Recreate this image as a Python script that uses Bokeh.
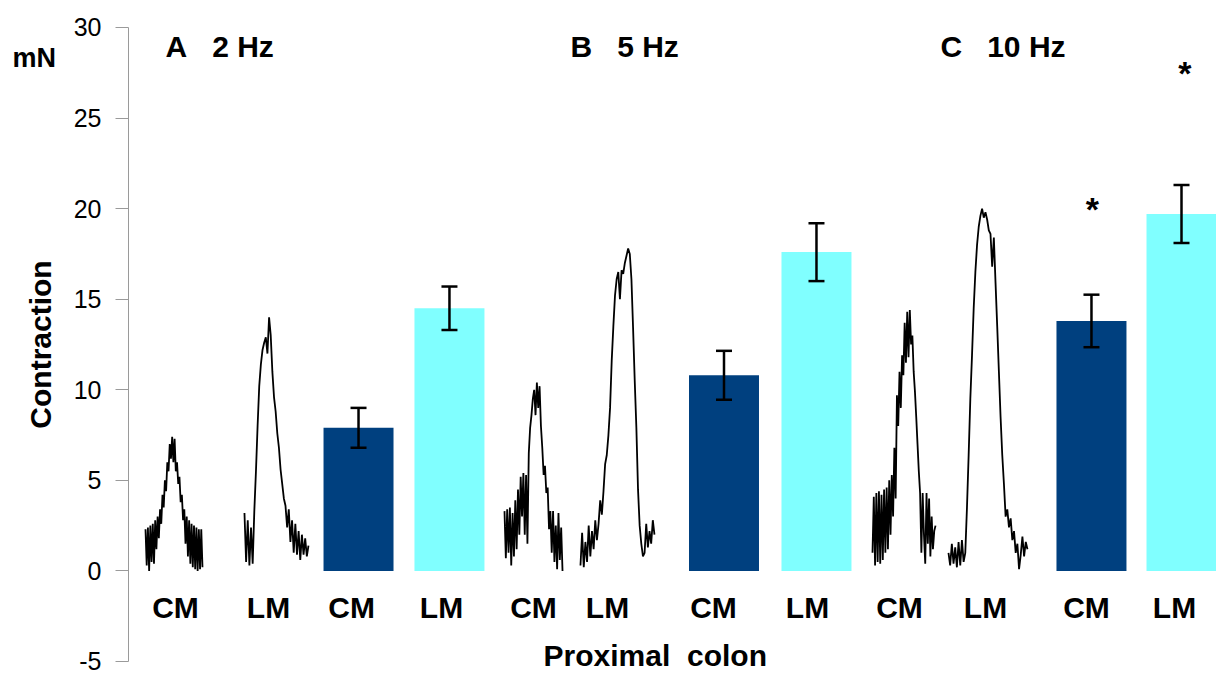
import numpy as np
from bokeh.plotting import figure
from bokeh.models import Range1d, ColumnDataSource, Whisker, SingleIntervalTicker, PrintfTickFormatter
from bokeh.core.properties import value
from bokeh.embed import file_html
from bokeh.resources import INLINE

# ---------------- data ----------------
categories = ["CM", "LM", "CM", "LM", "CM", "LM", "CM", "LM", "CM", "LM", "CM", "LM"]
panel_labels = ["A\u00a0\u00a0 2 Hz", "B\u00a0\u00a0 5 Hz", "C\u00a0\u00a0 10 Hz"]
unit_label = "mN"
x_title = "Proximal\u00a0 colon"
y_title = "Contraction"

bar_muscle = ["CM", "LM", "CM", "LM", "CM", "LM"]
bar_means = [7.9, 14.5, 10.8, 17.6, 13.8, 19.7]
bar_sem = [1.1, 1.2, 1.35, 1.6, 1.45, 1.6]

trace_A_CM = [2.3, 0.3, 2.4, 0.0, 2.5, 0.5, 2.6, 0.4, 2.8, 1.2, 3.0,
              1.8, 3.4, 2.6, 4.2, 3.5, 5.0, 4.4, 6.0, 5.5, 7.0,
              6.2, 7.4, 6.0, 7.3, 5.5, 6.0,
              4.8, 5.2, 3.8, 4.2, 2.8, 3.4, 1.5, 3.0,
              0.8, 2.8, 0.4, 2.6, 0.2, 2.5, 0.1, 2.4, 0.0, 2.3, 0.1, 2.3, 0.2]
trace_A_LM = [3.2, 0.5, 2.8, 0.3, 2.4, 0.4, 3.3,
              5.5, 8.0, 10.2, 11.4, 12.2, 12.6, 12.9, 12.0,
              14.0, 13.0,
              11.0, 9.6, 8.8, 7.6, 6.8, 5.6, 4.8, 4.0, 3.6,
              2.4, 3.4, 1.6, 2.8, 1.0, 2.6, 0.9, 2.2, 0.6, 2.0, 0.9, 1.8, 0.8, 1.4]
trace_B_CM = [3.3, 0.7, 3.4, 1.0, 3.5, 0.3, 3.2, 0.8, 3.9, 1.2, 4.5, 2.0, 5.2, 3.0,
              5.4, 2.0, 5.3, 1.5, 6.5, 7.9, 8.6, 9.5,
              10.0, 8.6, 10.4, 9.0, 10.2, 8.0,
              6.8, 5.3, 5.8, 4.3, 4.6, 2.3, 3.3, 1.0, 3.3, 0.5, 2.5, 0.1, 3.2, 0.6, 2.4, 0.0]
trace_B_LM = [0.3, 2.1, 0.2, 1.6, 0.5, 2.5, 0.8, 2.2, 1.2, 2.8, 1.7, 2.6,
              3.9, 3.1, 4.4, 5.9, 6.4, 7.5,
              9.0, 11.6, 13.5, 15.2, 16.1,
              16.5, 15.0, 16.6, 16.4, 17.0, 17.4, 17.8, 17.5,
              16.1, 13.4, 10.5, 7.9, 4.5,
              2.5, 1.5, 0.8, 1.0, 2.6, 1.3, 2.2, 1.5, 2.8, 2.0]
trace_C_CM = [1.0, 4.1, 0.3, 4.3, 0.5, 4.4, 0.4, 4.2, 0.6, 4.5, 1.0, 4.6, 1.2, 5.0,
              2.0, 5.3, 3.0, 6.8, 4.0, 9.7, 8.0, 11.0, 9.0, 11.9, 10.8, 13.7,
              11.5, 14.3, 11.8, 14.4, 12.5, 13.0,
              11.0, 9.9, 8.5, 7.0, 5.5, 4.3, 1.0, 4.3, 2.0, 0.4, 4.3, 1.5, 4.0, 0.8, 3.0, 1.2, 2.2, 2.5]
trace_C_LM = [1.0, 0.3, 1.5, 0.4, 1.3, 0.2, 1.6, 0.3, 1.7, 0.5, 1.0,
              3.5, 6.4, 9.5, 11.9, 14.5, 16.5,
              18.0, 19.0, 19.6, 20.0, 19.5, 19.8, 19.4, 18.8, 18.6,
              16.8, 18.4, 15.9,
              13.5, 11.0, 8.5, 6.4, 4.8, 3.0,
              3.4, 2.4, 2.9, 1.7, 2.2, 1.0, 1.5, 0.1, 0.9, 1.9, 0.8, 1.6, 1.2]
traces = [trace_A_CM, trace_A_LM, trace_B_CM, trace_B_LM, trace_C_CM, trace_C_LM]

# ---------------- layout (positions in slot units; 0..12 spans the plotting area) ----------------
label_pos = [0.518, 1.544, 2.46, 3.452, 4.467, 5.283, 6.452, 7.489, 8.504, 9.452, 10.566, 11.537]
label_y = -2.0
bar_pos = [2.537, 3.54, 6.568, 7.588, 10.621, 11.614]
bar_w = 0.772
trace_span = [(0.1875, 0.816), (1.279, 1.985), (4.147, 4.787), (4.985, 5.801), (8.206, 8.901), (9.044, 9.915)]
panel_pos = [0.408, 4.875, 8.956]
panel_y = 28.95
star_pos = [10.63, 11.65]
star_y = [20.0, 27.5]
X_LEFT = -128 / 90.667   # canvas left edge in slot units (axis sits at 0)

DARK = "#00407F"
CYAN = "#80FFFF"
SANS = "Liberation Sans, Arial, sans-serif"

p = figure(width=1216, height=675, output_backend="svg", toolbar_location=None,
           x_range=Range1d(X_LEFT, 12), y_range=Range1d(-5.773, 31.49),
           min_border_left=0, min_border_right=0, min_border_top=0, min_border_bottom=0,
           x_axis_type=None)
p.outline_line_color = None
p.grid.visible = False
p.background_fill_color = "white"

ax = p.yaxis[0]
ax.fixed_location = 0
ax.ticker = SingleIntervalTicker(interval=5)
ax.formatter = PrintfTickFormatter(format="%d")
ax.bounds = (-5, 30)
ax.axis_line_color = "#9a9a9a"
ax.major_tick_line_color = "#9a9a9a"
ax.major_tick_out = 13
ax.major_tick_in = 0
ax.minor_tick_line_color = None
ax.major_label_text_font = SANS
ax.major_label_text_font_size = "25px"
ax.major_label_text_color = "black"
ax.major_label_standoff = 14
ax.axis_label = y_title
ax.axis_label_text_font = SANS
ax.axis_label_text_font_style = "bold"
ax.axis_label_text_font_size = "30px"
ax.axis_label_text_color = "black"
ax.axis_label_standoff = 14

# traces
for tr, (x0, x1) in zip(traces, trace_span):
    xs = np.linspace(x0, x1, len(tr))
    p.line(xs, tr, line_color="black", line_width=1.8)

# bars
src = ColumnDataSource(dict(x=bar_pos, top=bar_means,
                            upper=[m + s for m, s in zip(bar_means, bar_sem)],
                            lower=[m - s for m, s in zip(bar_means, bar_sem)],
                            color=[DARK if m == "CM" else CYAN for m in bar_muscle]))
p.vbar(x="x", top="top", bottom=0, width=bar_w, fill_color="color", line_color=None, source=src)
w = Whisker(base="x", upper="upper", lower="lower", source=src, line_color="black", line_width=2.5,
            level="overlay")
for head in (w.upper_head, w.lower_head):
    head.size = 16
    head.line_width = 2.5
    head.line_color = "black"
p.add_layout(w)

# category labels
p.text(x=label_pos, y=[label_y] * len(categories), text=categories,
       text_font=value(SANS), text_font_style="bold", text_font_size="30px",
       text_align="center", text_baseline="middle", text_color="black")

# panel labels
p.text(x=panel_pos, y=[panel_y] * 3, text=panel_labels,
       text_font=value(SANS), text_font_style="bold", text_font_size="30px",
       text_align="left", text_baseline="middle", text_color="black")

# significance stars
p.text(x=star_pos, y=star_y, text=["*", "*"],
       text_font=value(SANS), text_font_style="bold", text_font_size="34px",
       text_align="center", text_baseline="middle", text_color="black")

# unit label and x title
p.text(x=[-1.28], y=[28.29], text=[unit_label], text_font=value(SANS), text_font_style="bold",
       text_font_size="27px", text_align="left", text_baseline="middle", text_color="black")
p.text(x=[5.81], y=[-4.67], text=[x_title], text_font=value(SANS), text_font_style="bold",
       text_font_size="30px", text_align="center", text_baseline="middle", text_color="black")

open("out.html", "w").write(file_html(p, INLINE))
